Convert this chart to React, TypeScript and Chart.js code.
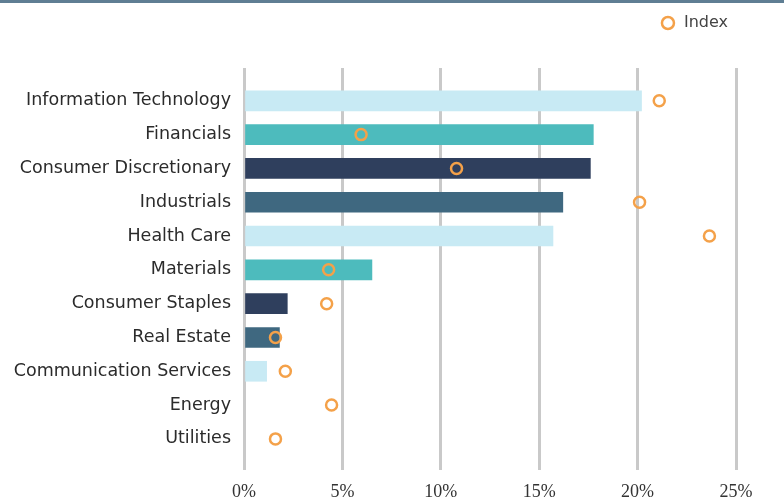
import React, { useEffect, useRef } from "react";
import { Chart, registerables } from "chart.js";

Chart.register(...registerables);

const categories = [
  "Information Technology",
  "Financials",
  "Consumer Discretionary",
  "Industrials",
  "Health Care",
  "Materials",
  "Consumer Staples",
  "Real Estate",
  "Communication Services",
  "Energy",
  "Utilities",
];

const portfolioValues = [20.2, 17.75, 17.6, 16.2, 15.7, 6.5, 2.2, 1.8, 1.15, 0, 0];
const indexValues = [21.1, 5.95, 10.8, 20.1, 23.65, 4.3, 4.2, 1.6, 2.1, 4.45, 1.6];
const xTicks = [0, 5, 10, 15, 20, 25];
const barColors = ["#c8eaf4", "#4dbbbd", "#2f3f5d", "#3f6880"];

const legendSpacer = {
  id: "legendSpacer",
  beforeInit(chart: any) {
    const lg = chart.legend;
    if (!lg) return;
    const orig = lg.fit;
    lg.fit = function () {
      orig.call(this);
      this.height += 27;
    };
  },
};

export default function App() {
  const ref = useRef<HTMLCanvasElement>(null);
  useEffect(() => {
    if (!ref.current) return;
    const chart = new Chart(ref.current, {
      type: "bar",
      data: {
        datasets: [
          {
            type: "bar",
            label: "Portfolio",
            indexAxis: "y",
            order: 2,
            data: portfolioValues.map((v, i) => ({ x: v, y: i })),
            backgroundColor: portfolioValues.map((v, i) =>
              v > 0 ? barColors[i % barColors.length] : "rgba(0,0,0,0)"
            ),
            borderWidth: 0,
            barThickness: 20,
            xAxisID: "x",
            yAxisID: "y",
          } as any,
          {
            type: "scatter",
            label: "Index",
            order: 1,
            data: indexValues.map((v, i) => ({ x: v, y: i })),
            backgroundColor: "rgba(0,0,0,0)",
            borderColor: "#f4a149",
            borderWidth: 2.5,
            pointRadius: 5.5,
            pointStyle: "circle",
            xAxisID: "x",
            yAxisID: "y",
          } as any,
        ],
      },
      options: {
        animation: false,
        responsive: true,
        maintainAspectRatio: false,
        layout: { padding: { top: 7, right: 48, bottom: 0, left: 0 } },
        plugins: {
          tooltip: { enabled: false },
          legend: {
            position: "top",
            align: "end",
            labels: {
              filter: (item: any) => item.text === "Index",
              usePointStyle: true,
              pointStyle: "circle",
              boxWidth: 16,
              boxHeight: 8.5,
              color: "#444",
              font: { family: "DejaVu Sans", size: 16 },
              padding: 8,
            },
          },
        },
        scales: {
          x: {
            type: "linear",
            min: 0,
            max: 25,
            offset: false,
            afterBuildTicks: (scale: any) => {
              scale.ticks = xTicks.map((v) => ({ value: v }));
            },
            afterFit: (scale: any) => {
              scale.height = 29;
            },
            grid: {
              color: "#c9c9c9",
              lineWidth: 3,
              drawTicks: false,
              offset: false,
            },
            border: { display: false },
            ticks: {
              callback: (v: any) => v + "%",
              color: "#333",
              padding: 11,
              font: { family: "Liberation Serif", size: 18 },
            },
          },
          y: {
            type: "linear",
            reverse: true,
            min: -0.97,
            max: 10.92,
            offset: false,
            afterBuildTicks: (scale: any) => {
              scale.ticks = categories.map((_, i) => ({ value: i }));
            },
            afterFit: (scale: any) => {
              scale.width = 244;
            },
            grid: { display: false, drawTicks: false },
            border: { display: false },
            ticks: {
              callback: (v: any) => categories[v] ?? "",
              color: "#2b2b2b",
              padding: 13,
              font: { family: "DejaVu Sans", size: 17.5 },
            },
          },
        },
      },
      plugins: [legendSpacer],
    } as any);
    return () => chart.destroy();
  }, []);

  return (
    <div style={{ position: "fixed", left: 0, top: 0, width: 784, height: 499, background: "#fff" }}>
      <div style={{ position: "absolute", top: 0, left: 0, right: 0, height: 3, background: "#5f7e93" }} />
      <canvas ref={ref} />
    </div>
  );
}
